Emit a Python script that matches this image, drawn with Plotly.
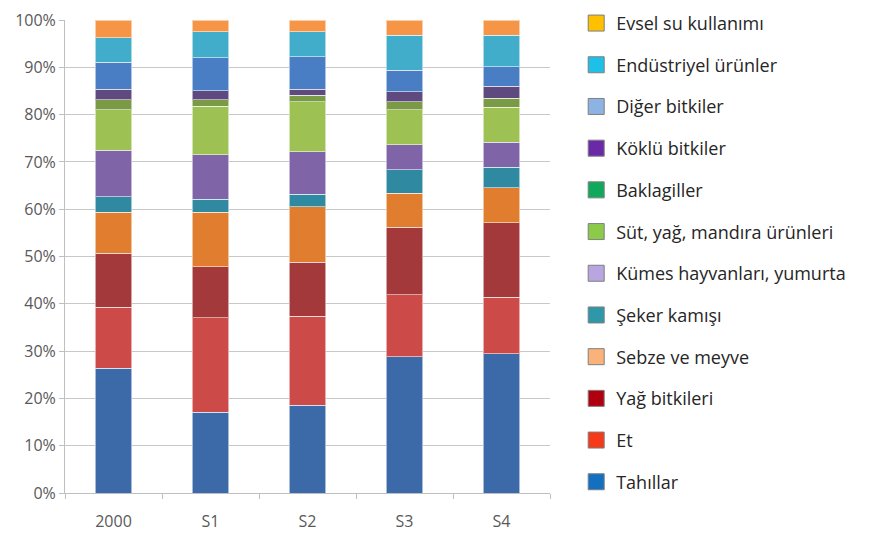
import plotly.graph_objects as go

categories = ["2000", "S1", "S2", "S3", "S4"]

series_names = [
    "Tahıllar", "Et", "Yağ bitkileri", "Sebze ve meyve", "Şeker kamışı",
    "Kümes hayvanları, yumurta", "Süt, yağ, mandıra ürünleri", "Baklagiller",
    "Köklü bitkiler", "Diğer bitkiler", "Endüstriyel ürünler", "Evsel su kullanımı",
]

tahillar = [26.4, 17.1, 18.6, 28.8, 29.4]
et = [12.9, 19.9, 18.8, 13.1, 12.0]
yag_bitkileri = [11.4, 10.8, 11.4, 14.3, 15.7]
sebze_meyve = [8.7, 11.6, 11.7, 7.2, 7.4]
seker_kamisi = [3.2, 2.7, 2.7, 4.9, 4.4]
kumes = [9.9, 9.4, 8.9, 5.3, 5.3]
sut = [8.5, 10.3, 10.6, 7.4, 7.4]
baklagiller = [2.1, 1.3, 1.4, 1.7, 1.9]
koklu = [2.3, 1.9, 1.3, 2.1, 2.5]
diger = [5.7, 7.0, 6.8, 4.6, 4.1]
endustriyel = [5.1, 5.5, 5.3, 7.4, 6.7]
evsel = [3.8, 2.5, 2.5, 3.2, 3.2]

series_values = [tahillar, et, yag_bitkileri, sebze_meyve, seker_kamisi, kumes,
                 sut, baklagiller, koklu, diger, endustriyel, evsel]

bar_colors = ["#3C6AA8", "#CC4B48", "#A3393B", "#E07D2E", "#2F89A0", "#8064A8",
              "#9DC153", "#7A9A45", "#5E4A7E", "#4A7EC4", "#41ADCB", "#F59545"]

legend_colors = ["#1370C0", "#F53A1A", "#B00010", "#F9B27A", "#2F98A8", "#B9A6E0",
                 "#8CCB4A", "#10A85A", "#6A2AA8", "#8DB3E2", "#1FC0E8", "#FFC000"]

y_tickvals = [0, 10, 20, 30, 40, 50, 60, 70, 80, 90, 100]
y_ticktext = ["0%", "10%", "20%", "30%", "40%", "50%", "60%", "70%", "80%", "90%", "100%"]

fig = go.Figure()

for name, vals, col in zip(series_names, series_values, bar_colors):
    fig.add_trace(go.Bar(
        x=categories, y=vals, name=name, marker_color=col,
        marker_line=dict(color="rgba(255,255,255,0.55)", width=1),
        showlegend=False,
    ))

# legend entries (top to bottom)
for name, col in reversed(list(zip(series_names, legend_colors))):
    fig.add_trace(go.Scatter(
        x=[None], y=[None], mode="markers", name=name, legendgroup=name,
        marker=dict(symbol="square", size=16, color=col,
                    line=dict(color="#7f7f7f", width=1)),
    ))

fig.update_layout(
    width=871, height=534,
    barmode="stack", bargap=0.62,
    paper_bgcolor="white", plot_bgcolor="white",
    margin=dict(l=65, r=321, t=20, b=41, autoexpand=False),
    font=dict(family="Open Sans", size=16, color="#595959"),
    legend=dict(
        x=1.054, xanchor="left", xref="paper", y=1.032, yanchor="top",
        traceorder="grouped", tracegroupgap=15.3, maxheight=1.0,
        font=dict(family="Open Sans", size=18, color="#262626"),
        itemsizing="trace", bgcolor="rgba(0,0,0,0)",
    ),
    showlegend=True,
)

fig.update_xaxes(
    showgrid=False, showline=True, linecolor="#bfbfbf", linewidth=1,
    ticks="outside", tickson="boundaries", ticklen=5, tickcolor="#bfbfbf",
    ticklabelstandoff=14,
    tickfont=dict(size=16, color="#595959"),
)
fig.update_yaxes(
    range=[0, 100], tickvals=y_tickvals, ticktext=y_ticktext,
    showgrid=True, gridcolor="#c8c8c8", gridwidth=1,
    showline=True, linecolor="#bfbfbf", linewidth=1,
    ticks="outside", ticklen=5, tickcolor="#bfbfbf",
    tickfont=dict(size=16, color="#595959"), zeroline=False,
)

fig.write_html("out.html")
